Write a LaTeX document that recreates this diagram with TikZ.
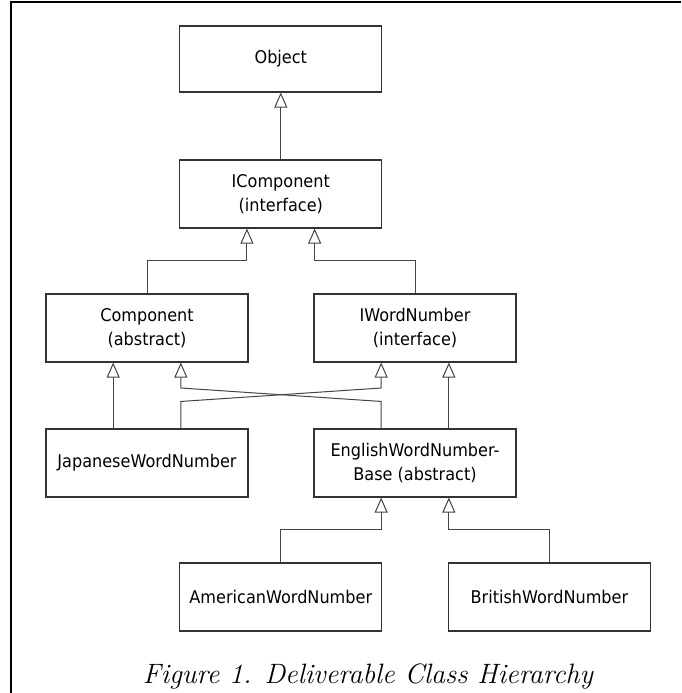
\documentclass[tikz,border=0pt]{standalone}
\usepackage{fontspec}
\newfontfamily\boxfont[FakeStretch=0.92]{DejaVu Sans}
\usetikzlibrary{arrows.meta,calc}
\definecolor{lineclr}{HTML}{444444}
\definecolor{boxclr}{HTML}{333333}
\tikzset{
  cls/.style={draw=boxclr, line width=1.1pt, fill=white, minimum width=202pt, minimum height=68pt,
    inner sep=0pt, align=center, font=\boxfont\fontsize{17.5}{24}\selectfont},
  inh/.style={draw=lineclr, line width=1pt,
    -{Triangle[length=15pt, width=13pt, fill=white, line width=1pt]}},
  frameline/.style={draw=black, line width=2pt},
  captext/.style={font=\itshape\fontsize{28}{33}\selectfont, anchor=base, inner sep=0pt}
}
\begin{document}
\begin{tikzpicture}[x=1pt,y=-1pt]
\useasboundingbox (0,0) rectangle (681,693);
\draw[frameline] (11,693) -- (11,2) -- (681,2);

\node[cls, minimum height=66pt] (obj) at (280.8,59) {Object};
\node[cls] (icomp) at (280.8,194) {IComponent\\(interface)};
\node[cls] (comp) at (147,328) {Component\\(abstract)};
\node[cls] (iwn) at (415,328) {IWordNumber\\(interface)};
\node[cls] (jap) at (147,463) {JapaneseWordNumber};
\node[cls] (eng) at (415,463) {EnglishWordNumber-\\Base (abstract)};
\node[cls] (am) at (280.8,597) {AmericanWordNumber};
\node[cls] (br) at (549.4,597) {BritishWordNumber};

\node[captext] (cap) at (368,683) {Figure 1. Deliverable Class Hierarchy};

% attachment points at one and two thirds of box sides
\coordinate (icL) at ($(icomp.south west)!1/3!(icomp.south east)$);
\coordinate (icR) at ($(icomp.south west)!2/3!(icomp.south east)$);
\coordinate (compL) at ($(comp.south west)!1/3!(comp.south east)$);
\coordinate (compR) at ($(comp.south west)!2/3!(comp.south east)$);
\coordinate (iwnL) at ($(iwn.south west)!1/3!(iwn.south east)$);
\coordinate (iwnR) at ($(iwn.south west)!2/3!(iwn.south east)$);
\coordinate (japL) at ($(jap.north west)!1/3!(jap.north east)$);
\coordinate (japR) at ($(jap.north west)!2/3!(jap.north east)$);
\coordinate (engTL) at ($(eng.north west)!1/3!(eng.north east)$);
\coordinate (engTR) at ($(eng.north west)!2/3!(eng.north east)$);
\coordinate (engBL) at ($(eng.south west)!1/3!(eng.south east)$);
\coordinate (engBR) at ($(eng.south west)!2/3!(eng.south east)$);

\draw[inh] (icomp.north) -- (obj.south);
\draw[inh] (comp.north) -- ++(0,-33) -| (icL);
\draw[inh] (iwn.north) -- ++(0,-33) -| (icR);
\draw[inh] (japL) -- (compL);
\draw[inh] (japR) -- ++(0,-27) -- (iwnL |- 0,388) -- (iwnL);
\draw[inh] (engTL) -- ++(0,-27) -- (compR |- 0,388) -- (compR);
\draw[inh] (engTR) -- (iwnR);
\draw[inh] (am.north) -- ++(0,-33) -| (engBL);
\draw[inh] (br.north) -- ++(0,-33) -| (engBR);
\end{tikzpicture}
\end{document}
